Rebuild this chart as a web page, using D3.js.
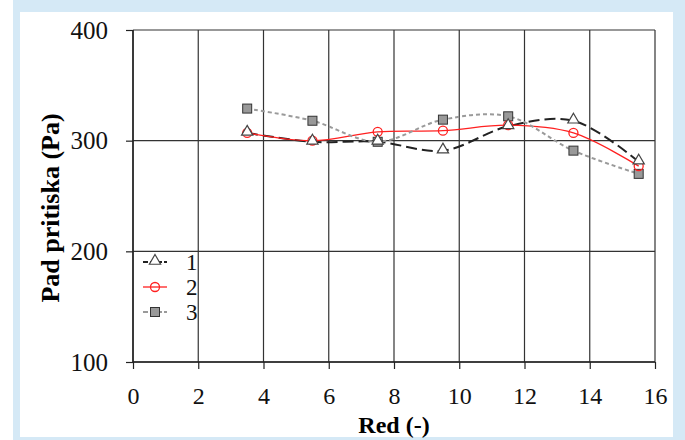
<!DOCTYPE html>
<html>
<head>
<meta charset="utf-8">
<script src="https://cdn.jsdelivr.net/npm/d3@7"></script>
<style>
body { margin: 0; background: #fff; }
svg { display: block; }
svg text { font-family: "Liberation Serif", "Times New Roman", serif; }
</style>
</head>
<body>
<svg width="685" height="440"></svg>
<script>
// data
var xs = [3.5, 5.5, 7.5, 9.5, 11.5, 13.5, 15.5];
var s1 = [307, 299, 299, 291, 313, 318, 281];
var s2 = [307, 300, 308, 309, 314, 307, 277];
var s3 = [329, 318, 299, 319, 322, 291, 270];
var seriesNames = ["1", "2", "3"];
var xTicks = [0, 2, 4, 6, 8, 10, 12, 14, 16];
var yTicks = [100, 200, 300, 400];

var svg = d3.select("svg");

// light blue frame
svg.append("rect").attr("x", 13).attr("y", 0).attr("width", 672).attr("height", 440).attr("fill", "#d5e9f6");
svg.append("rect").attr("x", 20).attr("y", 12).attr("width", 653).attr("height", 425).attr("fill", "#fff");

var margin = {left: 133, top: 30, right: 655, bottom: 362};

var x = d3.scaleLinear().domain([0, 16]).range([margin.left, margin.right]);
var y = d3.scaleLinear().domain([100, 400]).range([margin.bottom, margin.top]);

var g = svg.append("g");

// grid
g.selectAll(".vgrid").data(xTicks).enter().append("line")
  .attr("x1", function(d) { return x(d); }).attr("x2", function(d) { return x(d); })
  .attr("y1", y(400)).attr("y2", y(100))
  .attr("stroke", "#333").attr("stroke-width", 1.2);
g.selectAll(".hgrid").data(yTicks).enter().append("line")
  .attr("x1", x(0)).attr("x2", x(16))
  .attr("y1", function(d) { return y(d); }).attr("y2", function(d) { return y(d); })
  .attr("stroke", "#333").attr("stroke-width", 1.2);

// axes
var xAxis = g.append("g")
  .attr("transform", "translate(0," + y(100) + ")")
  .call(d3.axisBottom(x).tickValues(xTicks).tickSize(7).tickPadding(18));
var yAxis = g.append("g")
  .attr("transform", "translate(" + x(0) + ",0)")
  .call(d3.axisLeft(y).tickValues(yTicks).tickSize(7).tickPadding(18));
[xAxis, yAxis].forEach(function(a) {
  a.attr("font-family", null).attr("font-size", null);
  a.select(".domain").attr("stroke", "#222").attr("stroke-width", 1.5);
  a.selectAll(".tick line").attr("stroke", "#222").attr("stroke-width", 1.2);
  a.selectAll("text").attr("fill", "#111");
});
yAxis.selectAll("text").style("font-size", "25px");
xAxis.selectAll("text").style("font-size", "24px");
xAxis.select(".domain").attr("d", "M" + x(0) + ",0H" + x(16));
yAxis.select(".domain").attr("d", "M0," + y(100) + "V" + y(400));

// axis titles
svg.append("text")
  .attr("x", (x(0) + x(16)) / 2).attr("y", 433)
  .attr("text-anchor", "middle").attr("font-weight", "bold").style("font-size", "24px")
  .text("Red (-)");
svg.append("text")
  .attr("transform", "translate(59," + ((y(100) + y(400)) / 2 + 12) + ") rotate(-90)")
  .attr("text-anchor", "middle").attr("font-weight", "bold").style("font-size", "26px")
  .text("Pad pritiska (Pa)");

// lines
var line = d3.line()
  .x(function(d) { return x(d[0]); })
  .y(function(d) { return y(d[1]); })
  .curve(d3.curveCatmullRom.alpha(0.5));

var series = [
  {vals: s1, stroke: "#222", dash: "11,5", width: 2, marker: "tri"},
  {vals: s2, stroke: "#ff2020", dash: null, width: 1.3, marker: "circle"},
  {vals: s3, stroke: "#9a9a9a", dash: "4,3", width: 2, marker: "square"}
];

function drawMarker(sel, type, cx, cy) {
  if (type === "tri") {
    sel.append("path")
      .attr("d", d3.symbol().type(d3.symbolTriangle).size(55)())
      .attr("transform", "translate(" + cx + "," + (cy - 1) + ")")
      .attr("fill", "#fff").attr("stroke", "#444").attr("stroke-width", 1.2);
  } else if (type === "circle") {
    sel.append("circle").attr("cx", cx).attr("cy", cy).attr("r", 4.5)
      .attr("fill", "none").attr("stroke", "#ff2020").attr("stroke-width", 1.3);
  } else {
    sel.append("rect").attr("x", cx - 4.5).attr("y", cy - 4.5).attr("width", 9).attr("height", 9)
      .attr("fill", "#999").attr("stroke", "#333").attr("stroke-width", 1);
  }
}

series.forEach(function(s) {
  var pts = xs.map(function(v, i) { return [v, s.vals[i]]; });
  g.append("path")
    .attr("d", line(pts))
    .attr("fill", "none").attr("stroke", s.stroke)
    .attr("stroke-width", s.width)
    .attr("stroke-dasharray", s.dash);
});
// markers drawn in reverse order so series 1 sits on top
series.slice().reverse().forEach(function(s) {
  xs.forEach(function(v, i) { drawMarker(g, s.marker, x(v), y(s.vals[i])); });
});

// legend
var leg = svg.append("g");
seriesNames.forEach(function(name, i) {
  var s = series[i], ly = 262 + i * 25;
  leg.append("line").attr("x1", 143).attr("x2", 167).attr("y1", ly).attr("y2", ly)
    .attr("stroke", s.stroke).attr("stroke-width", s.width)
    .attr("stroke-dasharray", s.dash ? "5,2" : null);
  drawMarker(leg, s.marker, 155, ly);
  leg.append("text").attr("x", 186).attr("y", ly + 8)
    .style("font-size", "23px").attr("fill", "#111").text(name);
});
</script>
</body>
</html>
